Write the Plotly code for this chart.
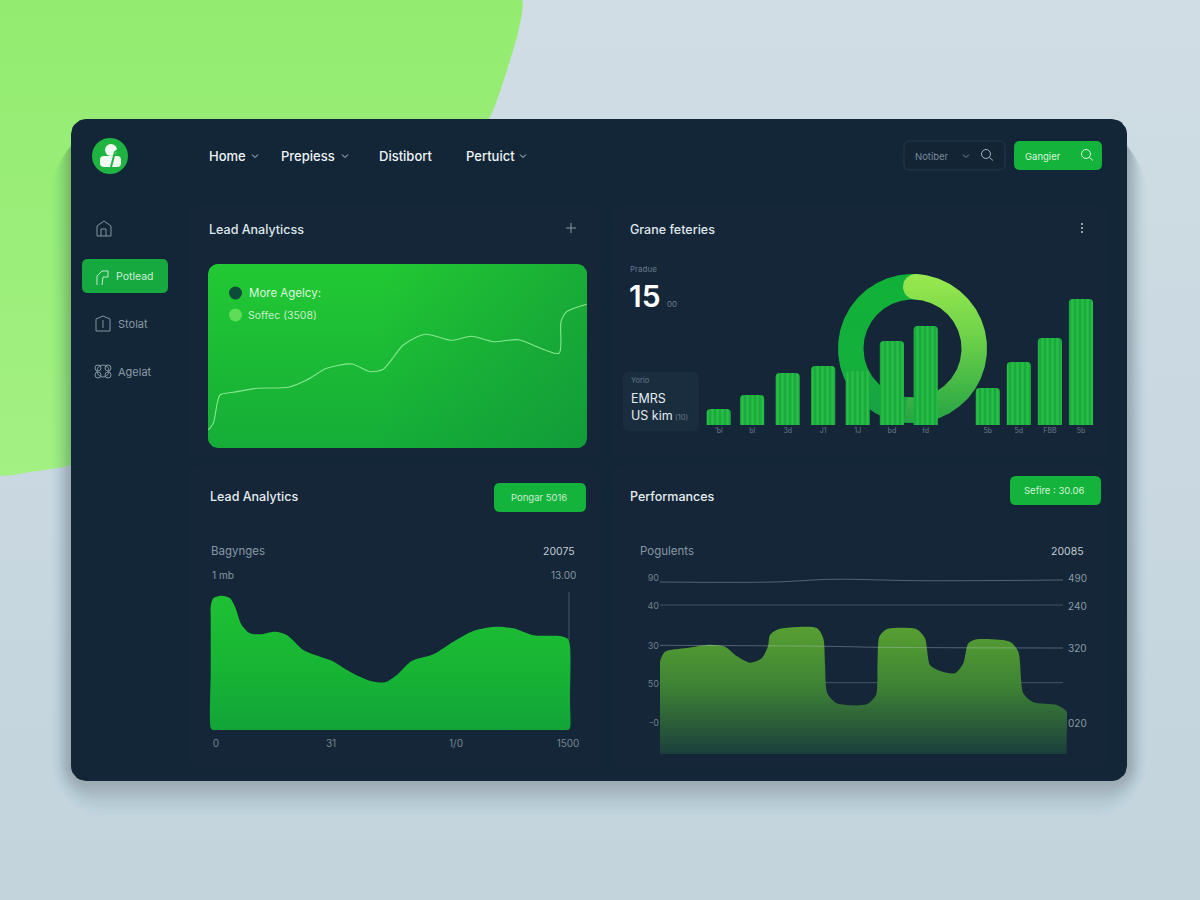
import numpy as np
import plotly.graph_objects as go

# ---------- data ----------
bar_slots = [0, 0.97, 2.0, 3.03, 4.03, 5.02, 6.0, 7.8, 8.7, 9.6, 10.5]
bar_values = [16, 30, 52, 59, 54, 84, 99, 37, 63, 87, 126]
bar_labels = ["'bl", "bl", "3d", "J1", "1J", "bd", "fd", "5b", "5d", "FBB", "5b"]
donut_values = [51, 49]

line_x = [0.3, 5.3, 12, 25.3, 48.7, 80.3, 98.7, 118.7, 143.7, 162, 175.3, 195.3, 217, 243.7, 263.7, 285.3, 310.3, 351, 353, 358.7, 378.7]
line_y = [18, 24.7, 53, 55.7, 59.7, 60.7, 68, 79.7, 84, 76.3, 78.7, 103, 113.7, 107.7, 111.7, 106.3, 108.3, 94.7, 126.3, 136.3, 143.7]

left_x = [12.5, 10.7, 10.7, 10.7, 10.7, 13.3, 21.7, 30, 35, 41.7, 50, 60, 75, 86.7, 103.3, 115, 131.7, 151.7, 170, 185, 196.7, 211.7, 233.3, 253.3, 273.3, 295, 313.3, 333.3, 360, 368, 370, 370, 370, 368.2]
left_y = [0, 2, 60, 112, 123.3, 131.7, 134.3, 131.7, 123.3, 105, 96.7, 95.7, 98.3, 95, 80, 75, 69.3, 57.3, 49.3, 47.7, 55, 69, 75.7, 88.3, 99, 103.3, 101.7, 94.7, 94, 91, 84, 30, 2, 0]
left_tickvals = [16, 131, 256, 368]
left_ticktext = ["0", "31", "1/0", "1500"]

right_x = [40, 40, 40, 45, 66.7, 90, 105, 116.7, 130, 141.7, 148, 150, 158.3, 196.7, 203.3, 205, 207.3, 216.7, 246.7, 256, 257.5, 259.3, 266.7, 296.7, 305, 310, 320, 335, 343.3, 348.3, 356.7, 390, 398.3, 403.3, 413.3, 436.7, 446.7, 446.7, 446.7]
right_y = [0, 50, 92.3, 102.3, 106, 109.3, 107.3, 98, 91.3, 95.7, 108, 119, 124.7, 126, 115.7, 90, 60.7, 50.7, 49.7, 59, 90, 117.3, 124.7, 124.7, 115.7, 89, 83, 80.7, 90.7, 110.7, 114.7, 112.3, 102.3, 60.7, 51.7, 49, 42.3, 20, 0]
top_line_x = [40, 153.3, 213.3, 300, 443]
top_line_y = [172, 172, 174.7, 173.3, 174]
ref_line_x = [40, 206.7, 260, 443]
ref_line_y = [108.7, 107.7, 106.7, 106]
grid_levels = [149, 71.3]
right_left_ticks = [176, 148, 108, 70, 31]
right_left_text = ["90", "40", "30", "50", "-0"]
right_right_ticks = [176, 148, 106, 31]
right_right_text = ["490", "240", "320", "020"]

# ---------- colours ----------
PANEL = "#132637"
GREEN = "#14b33c"
WHITE = "#eef4f6"
DIM = "#8797a3"
FONT = "Inter, Roboto, sans-serif"

def px(x): return x / 1200
def py(y): return 1 - y / 900

def rr_pts(x0, y0, x1, y1, r, n=8):
    t = np.linspace(0, np.pi / 2, n)
    xs, ys = [], []
    for cx, cy, a0 in [(x1 - r, y0 + r, -np.pi / 2), (x1 - r, y1 - r, 0), (x0 + r, y1 - r, np.pi / 2), (x0 + r, y0 + r, np.pi)]:
        xs += list(cx + r * np.cos(a0 + t))
        ys += list(cy + r * np.sin(a0 + t))
    return xs + xs[:1], ys + ys[:1]

def rr_path(x0, y0, x1, y1, r):
    X = lambda v: f"{px(v):.5f}"
    Y = lambda v: f"{py(v):.5f}"
    return (f"M{X(x0+r)},{Y(y0)} L{X(x1-r)},{Y(y0)} Q{X(x1)},{Y(y0)} {X(x1)},{Y(y0+r)} "
            f"L{X(x1)},{Y(y1-r)} Q{X(x1)},{Y(y1)} {X(x1-r)},{Y(y1)} L{X(x0+r)},{Y(y1)} "
            f"Q{X(x0)},{Y(y1)} {X(x0)},{Y(y1-r)} L{X(x0)},{Y(y0+r)} Q{X(x0)},{Y(y0)} {X(x0+r)},{Y(y0)} Z")

def poly(points):
    return "M" + " L".join(f"{px(a):.5f},{py(b):.5f}" for a, b in points)

fig = go.Figure()

def chrome(xs, ys, color=None, grad=None, axis="", **kw):
    tr = dict(x=xs, y=ys, mode="lines", line=dict(width=0), fill="toself", hoverinfo="skip",
              showlegend=False, xaxis="x" + axis, yaxis="y" + axis)
    if grad:
        tr["fillgradient"] = grad
        tr["fillcolor"] = "rgba(0,0,0,0)"
    else:
        tr["fillcolor"] = color
    tr.update(kw)
    fig.add_trace(go.Scatter(**tr))

# background, blob, shadow, panel
chrome([0, 1200, 1200, 0, 0], [0, 0, 900, 900, 0],
       grad=dict(type="vertical", start=0, stop=900, colorscale=[[0, "#d0dde4"], [0.5, "#c9d8e1"], [1, "#c3d4dd"]]))
chrome([0, 522, 518, 508, 490, 300, 71, 30, 0, 0], [0, 0, 33, 67, 117, 325, 465, 472, 475, 0],
       grad=dict(type="vertical", start=0, stop=475, colorscale=[[0, "#93ec70"], [1, "#a3f083"]]),
       line=dict(width=0, shape="spline", smoothing=0.4))
for g in range(1, 41, 2):
    xs, ys = rr_pts(71 - g * 0.5, 135, 1127 + g * 0.5, 778 + g, 15 + g)
    chrome(xs, ys, color=f"rgba(45,65,85,{0.026 - g * 0.0005:.4f})")
xs, ys = rr_pts(71, 119, 1127, 781, 15)
chrome(xs, ys, color=PANEL)
# subtle sub-panels
for box in [(188, 205, 600, 458), (612, 205, 1108, 458), (188, 466, 600, 768), (612, 466, 1108, 768)]:
    xs, ys = rr_pts(*box, 8)
    chrome(xs, ys, color="rgba(28,46,66,0.14)")
# green card
xs, ys = rr_pts(208, 264, 587, 448, 10)
chrome(xs, ys, grad=dict(type="vertical", start=264, stop=448, colorscale=[[0, "#22c933"], [1, "#15ad38"]]))
chrome(xs, ys, grad=dict(type="horizontal", start=208, stop=587,
                         colorscale=[[0, "rgba(15,130,60,0)"], [0.45, "rgba(15,130,60,0)"], [1, "rgba(12,130,60,0.4)"]]))
# stats box
xs, ys = rr_pts(623, 372, 699, 431, 5)
chrome(xs, ys, color="#1a2d3f")

# donut (own axes, below the bars)
R, r_in = 1.0, 49 / 74.5
total = sum(donut_values)
start_deg = 3
split = start_deg + 360 * donut_values[0] / total
def ring(a0, a1, cap=False):
    t = np.radians(np.linspace(a0, a1, 120))
    xs = list(R * np.sin(t)) + list(r_in * np.sin(t[::-1]))
    ys = list(R * np.cos(t)) + list(r_in * np.cos(t[::-1]))
    if cap:
        m = (R + r_in) / 2
        c = (R - r_in) / 2
        a = np.radians(a0)
        phi = np.linspace(0, np.pi, 20)
        ux, uy = np.sin(a), np.cos(a)
        vx, vy = -np.cos(a), np.sin(a)
        xs += list(m * ux + c * (-ux * np.cos(phi) + vx * np.sin(phi)))
        ys += list(m * uy + c * (-uy * np.cos(phi) + vy * np.sin(phi)))
    return xs + xs[:1], ys + ys[:1]
xs, ys = ring(split - 5, start_deg + 365)
chrome(xs, ys, axis="2", grad=dict(type="vertical", start=1, stop=-1, colorscale=[[0, "#10b139"], [0.6, "#14b03c"], [1, "#1b9c48"]]))
xs, ys = ring(start_deg, split, cap=True)
chrome(xs, ys, axis="2", grad=dict(type="vertical", start=1, stop=-1, colorscale=[[0, "#9ae94e"], [0.4, "#70d34a"], [1, "#24a443"]]))

# bars
fig.add_trace(go.Bar(x=bar_slots, y=bar_values, width=0.70, xaxis="x3", yaxis="y3", hoverinfo="skip", showlegend=False,
                     marker=dict(color="#1aae3c", line=dict(width=0),
                                 pattern=dict(shape="|", fgcolor="#3ccf55", bgcolor="#19ab3b", size=5, solidity=0.45))))

# line on green card
fig.add_trace(go.Scatter(x=line_x, y=line_y, mode="lines", xaxis="x4", yaxis="y4", hoverinfo="skip", showlegend=False,
                         line=dict(color="#86e88e", width=1.1, shape="spline", smoothing=0.7)))

# left area
fig.add_trace(go.Scatter(x=left_x, y=left_y, mode="lines", fill="toself", xaxis="x5", yaxis="y5", hoverinfo="skip",
                         showlegend=False, line=dict(width=0, shape="spline", smoothing=0.8), fillcolor="rgba(0,0,0,0)",
                         fillgradient=dict(type="vertical", start=135, stop=0, colorscale=[[0, "#1fc034"], [0.5, "#18b634"], [1, "#12a438"]])))

# right chart
LINE_C = "rgba(190,205,215,0.28)"
for lv in grid_levels:
    fig.add_trace(go.Scatter(x=[40, 443], y=[lv, lv], mode="lines", xaxis="x6", yaxis="y6", hoverinfo="skip",
                             showlegend=False, line=dict(color=LINE_C, width=1)))
fig.add_trace(go.Scatter(x=right_x, y=right_y, mode="lines", fill="toself", xaxis="x6", yaxis="y6", hoverinfo="skip",
                         showlegend=False, line=dict(width=0, shape="spline", smoothing=0.7), fillcolor="rgba(0,0,0,0)",
                         fillgradient=dict(type="vertical", start=126, stop=0, colorscale=[[0, "#579f32"], [0.45, "#3f8434"], [1, "#1b3f3c"]])))
for xs, ys in [(top_line_x, top_line_y), (ref_line_x, ref_line_y)]:
    fig.add_trace(go.Scatter(x=xs, y=ys, mode="lines", xaxis="x6", yaxis="y6", hoverinfo="skip", showlegend=False,
                             line=dict(color="rgba(190,205,215,0.36)", width=1, shape="spline")))
fig.add_trace(go.Scatter(x=[None], y=[None], xaxis="x6", yaxis="y7", hoverinfo="skip", showlegend=False))

# ---------- annotations ----------
ann = []
def T(x, y, s, size=12, color=WHITE, anchor="left", weight=400):
    ann.append(dict(x=px(x - 1), y=py(y), xref="paper", yref="paper", text=s, showarrow=False, xanchor=anchor, yanchor="middle",
                    borderpad=0, font=dict(family=FONT, size=size, color=color, weight=weight)))
for x, s in [(209, "Home"), (281, "Prepiess"), (379, "Distibort"), (466, "Pertuict")]:
    T(x, 156, s, 13, WHITE, weight=500)
T(209, 229, "Lead Analyticss", 12.5, "#dfe7ea", weight=500)
T(630, 229, "Grane feteries", 12.5, "#dfe7ea", weight=500)
T(210, 496, "Lead Analytics", 12.5, "#e6edf0", weight=500)
T(630, 496, "Performances", 12.5, "#e6edf0", weight=500)
T(116, 277, "Potlead", 10.5, "#cdeed6")
T(118, 324, "Stolat", 11, "#8b9aa6")
T(118, 372, "Agelat", 11, "#8b9aa6")
T(915, 156, "Notiber", 9.5, "#77899b")
T(1025, 156, "Gangier", 9.5, "#d9f5df")
T(540, 497.5, "Pongar 5016", 9.5, "#c9efd3", "center")
T(1055, 490.5, "Sefire : 30.06", 9.5, "#d4f3da", "center")
T(249, 293, "More Agelcy:", 11.5, "#dcf7de")
T(248, 315, "Soffec (3508)", 10.5, "#c5f0c8")
T(630, 269, "Pradue", 8, "#66788a")
T(629, 296, "15", 30, "#ffffff", weight=600)
T(667, 304, "00", 8, "#6d7f8d")
T(631, 380, "Yorio", 7.5, "#66788a")
T(631, 398, "EMRS", 12.5, "#e4ebef")
T(631, 415, "US kim", 12.5, "#e4ebef")
T(675, 417, "(10)", 7.5, "#66788a")
T(211, 551, "Bagynges", 11.5, DIM)
T(577, 551, "20075", 10.5, "#c2ccd3", "right")
T(212, 575, "1 mb", 10, DIM)
T(578, 575, "13.00", 10, DIM, "right")
T(640, 551, "Pogulents", 11.5, DIM)
T(1086, 551, "20085", 10.5, "#c2ccd3", "right")

# ---------- shapes ----------
sh = []
def line_shape(d, color, w=1):
    sh.append(dict(type="path", path=d, xref="paper", yref="paper", line=dict(color=color, width=w), layer="above"))
def fill_shape(d, color, border=None):
    sh.append(dict(type="path", path=d, xref="paper", yref="paper", fillcolor=color,
                   line=dict(color=border or color, width=1 if border else 0), layer="above"))
def circle(cx, cy, r, fill=None, line=None, w=1):
    sh.append(dict(type="circle", xref="paper", yref="paper", x0=px(cx - r), x1=px(cx + r), y0=py(cy + r), y1=py(cy - r),
                   fillcolor=fill or "rgba(0,0,0,0)", line=dict(color=line or "rgba(0,0,0,0)", width=w if line else 0), layer="above"))
def chev(x, y, color="#c5d0d6"):
    line_shape(poly([(x - 3, y - 1.5), (x, y + 1.5), (x + 3, y - 1.5)]), color, 1)
def lens(x, y, color):
    circle(x, y, 4.5, line=color, w=1)
    line_shape(poly([(x + 3.4, y + 3.4), (x + 7, y + 6.5)]), color, 1)

for x in [255, 345, 523]:
    chev(x, 156)
# buttons
fill_shape(rr_path(82, 259, 168, 293, 6), "#15a93f")
fill_shape(rr_path(1014, 141, 1102, 170, 6), GREEN)
fill_shape(rr_path(494, 483, 586, 512, 6), GREEN)
fill_shape(rr_path(1010, 476, 1101, 505, 6), GREEN)
fill_shape(rr_path(904, 141, 1005, 170, 6), "rgba(20,34,50,0.4)", border="#26394d")
lens(986, 154, "#a3b2bc")
lens(1086, 154, "#d9f5df")
chev(966, 156, "#77899b")
# logo
circle(110, 156, 18, fill="#1fb341")
circle(111, 150, 6, fill="#f2fbf3")
fill_shape(rr_path(100, 156, 121, 167, 4), "#f2fbf3")
line_shape(poly([(111, 167), (115, 152), (119, 149)]), "#1fb341", 2)
# sidebar icons
ICON = "#8394a0"
line_shape(poly([(97, 236), (97, 226), (104, 221), (111, 226), (111, 236), (97, 236)]), ICON, 1)
line_shape(poly([(101, 236), (101, 229), (106, 229), (106, 236)]), ICON, 1)
line_shape(poly([(97, 285), (97, 276), (102, 271), (108, 271), (108, 277), (103, 277), (102, 285)]), "#bfead0", 1)
line_shape(poly([(96, 331), (96, 319), (103, 316), (110, 319), (110, 331), (96, 331)]), ICON, 1)
line_shape(poly([(103, 320), (103, 328)]), ICON, 1)
circle(103, 371, 6, line=ICON, w=1)
circle(98, 368, 3, line=ICON, w=1)
circle(108, 368, 3, line=ICON, w=1)
circle(98, 375, 3, line=ICON, w=1)
circle(108, 375, 3, line=ICON, w=1)
# plus and menu dots
line_shape(poly([(566, 228), (576, 228)]), "#8b9aa6", 1)
line_shape(poly([(571, 223), (571, 233)]), "#8b9aa6", 1)
for y in [224, 228, 232]:
    circle(1082, y, 1.1, fill="#b7c4cc")
# card dots
circle(235.5, 293, 6.5, fill="#0d4b3a")
circle(235.5, 315, 6.5, fill="#5fdc58")
# thin vertical line of left chart
line_shape(poly([(569, 592), (569, 640)]), "rgba(190,205,215,0.3)", 1)

def xdom(a, b): return [a / 1200, b / 1200]
def ydom(top, bottom): return [1 - bottom / 900, 1 - top / 900]
hidden = dict(visible=False, fixedrange=True, automargin=False)
axis_font = dict(family=FONT, size=10, color="#758694")
clear = "rgba(0,0,0,0)"

fig.update_layout(
    width=1200, height=900, margin=dict(l=0, r=0, t=0, b=0, autoexpand=False), showlegend=False,
    paper_bgcolor="#c9d8e1", plot_bgcolor="rgba(0,0,0,0)", font=dict(family=FONT), barcornerradius=4,
    annotations=ann, shapes=sh, hovermode=False,
    xaxis=dict(domain=[0, 1], range=[0, 1200], **hidden),
    yaxis=dict(domain=[0, 1], range=[900, 0], **hidden),
    xaxis2=dict(domain=xdom(838, 987), range=[-1, 1], anchor="y2", **hidden),
    yaxis2=dict(domain=ydom(274, 423), range=[-1, 1], anchor="x2", **hidden),
    xaxis3=dict(domain=xdom(700, 1100), range=[-0.542, 11.052], anchor="y3", fixedrange=True, showgrid=False, zeroline=False,
                showline=False, tickmode="array", tickvals=bar_slots, ticktext=bar_labels, ticks="", automargin=False,
                tickfont=dict(family=FONT, size=7, color="#6a7c8b"), tickangle=0),
    yaxis3=dict(domain=ydom(295, 425), range=[0, 130], anchor="x3", **hidden),
    xaxis4=dict(domain=xdom(208, 587), range=[0, 379], anchor="y4", **hidden),
    yaxis4=dict(domain=ydom(264, 448), range=[0, 184], anchor="x4", **hidden),
    xaxis5=dict(domain=xdom(205, 575), range=[5, 375], anchor="y5", fixedrange=True, showgrid=False, zeroline=False,
                showline=False, tickmode="array", tickvals=left_tickvals, ticktext=left_ticktext, ticks="outside",
                ticklen=4, tickcolor=clear, automargin=False, tickfont=axis_font, tickangle=0),
    yaxis5=dict(domain=ydom(590, 730), range=[0, 140], anchor="x5", **hidden),
    xaxis6=dict(domain=xdom(660, 1067), range=[40, 447], anchor="y6", **hidden),
    yaxis6=dict(domain=ydom(560, 754), range=[0, 194], anchor="x6", fixedrange=True, showgrid=False, zeroline=False,
                showline=False, tickmode="array", tickvals=right_left_ticks, ticktext=right_left_text, ticks="",
                automargin=False, tickfont=dict(family=FONT, size=9, color="#6f808e")),
    yaxis7=dict(domain=ydom(560, 754), range=[0, 194], overlaying="y6", side="right", anchor="x6", fixedrange=True,
                showgrid=False, zeroline=False, showline=False, tickmode="array", tickvals=right_right_ticks,
                ticktext=right_right_text, ticks="", automargin=False, tickfont=dict(family=FONT, size=10, color="#8b9aa6")),
)

fig.write_html("out.html", config=dict(displayModeBar=False),
               post_script="document.body.style.margin='0';document.body.style.overflow='hidden';")
